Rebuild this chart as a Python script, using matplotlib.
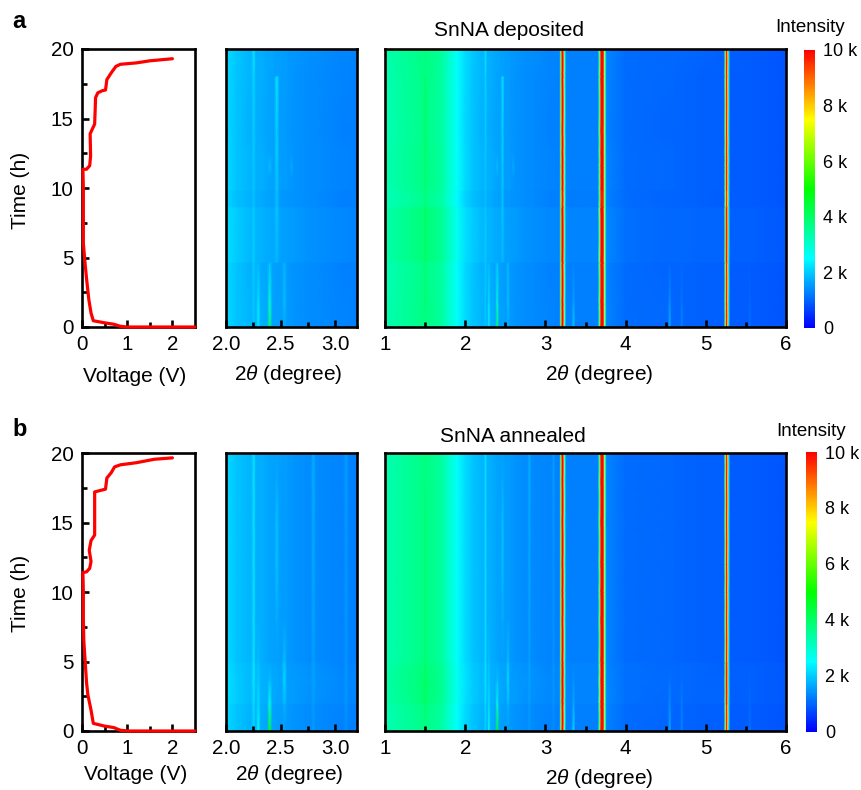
import matplotlib
matplotlib.use('Agg')
import matplotlib.pyplot as plt
import numpy as np
from matplotlib.colors import LinearSegmentedColormap

plt.rcParams['font.family'] = ['Liberation Sans', 'DejaVu Sans']
plt.rcParams['mathtext.fontset'] = 'custom'
plt.rcParams['mathtext.rm'] = 'Liberation Sans'
plt.rcParams['mathtext.it'] = 'Liberation Sans:italic'

# voltage curves
volt_a = [2.5, 1.0, 0.85, 0.7, 0.5, 0.25, 0.2, 0.15, 0.1, 0.07, 0.03, 0.03, 0.03, 0.02, 0.1, 0.17, 0.19, 0.18,
          0.28, 0.29, 0.3, 0.35, 0.45, 0.52, 0.55, 0.65, 0.75, 0.85, 1.2, 1.5, 2.0]
time_a = [0, 0, 0.05, 0.2, 0.3, 0.45, 1, 2, 3.5, 4.5, 6, 8, 10, 11.35, 11.35, 11.6, 12.3, 13.9,
          14.6, 15.5, 16.5, 16.85, 17, 17.05, 17.8, 18.3, 18.75, 18.9, 19, 19.15, 19.3]
volt_b = [2.5, 1.05, 0.85, 0.7, 0.5, 0.25, 0.2, 0.13, 0.1, 0.07, 0.04, 0.03, 0.03, 0.02, 0.1, 0.17, 0.2, 0.16,
          0.2, 0.28, 0.28, 0.28, 0.4, 0.52, 0.55, 0.65, 0.72, 0.85, 1.2, 1.6, 2.0]
time_b = [0, 0, 0.05, 0.25, 0.35, 0.55, 1.5, 2.6, 3.5, 5, 6.5, 8, 10, 11.4, 11.45, 11.7, 12.2, 13,
          13.7, 14.1, 15.5, 17.2, 17.3, 17.4, 18.2, 18.6, 19, 19.15, 19.3, 19.55, 19.65]

# mean diffraction profile, intensity in k counts at each 2theta node
theta = [1.0, 1.2, 1.4, 1.475, 1.5, 1.525, 1.6, 1.7, 1.8, 1.9, 2.0, 2.1, 2.2, 2.23, 2.255, 2.275, 2.295, 2.32,
         2.375, 2.4, 2.425, 2.44, 2.465, 2.49, 2.51, 2.535, 2.56, 2.575, 2.6, 2.625, 2.775, 2.8, 2.825, 3.075, 3.1, 3.125,
         3.175, 3.19, 3.2, 3.21, 3.225, 3.235, 3.245, 3.26, 3.325, 3.35, 3.375, 3.655, 3.67, 3.682, 3.695, 3.725,
         3.735, 3.75, 3.765, 4.0,
         4.525, 4.55, 4.575, 4.675, 4.7, 4.725, 5.0, 5.225, 5.24, 5.25, 5.262, 5.275, 5.29, 5.305, 5.525, 5.55, 5.575, 6.0]
base = [3.25, 3.45, 3.62, 3.7, 3.72, 3.7, 3.62, 3.45, 3.0, 2.55, 2.15, 1.95, 1.8, 1.77, 1.76, 1.74, 1.73, 1.72,
        1.65, 1.64, 1.63, 1.6, 1.58, 1.57, 1.55, 1.54, 1.53, 1.5, 1.49, 1.48, 1.4, 1.4, 1.4, 1.3, 1.3, 1.3,
        1.28, 2.9, 8.0, 10.0, 10.0, 7.5, 2.6, 1.3, 1.27, 1.27, 1.27, 1.27, 2.3, 6.5, 10.0, 10.0,
        7.0, 2.6, 1.3, 1.08,
        1.02, 1.02, 1.02, 1.01, 1.01, 1.01, 0.97, 0.95, 2.2, 8.0, 10.0, 8.0, 2.2, 0.93, 0.92, 0.92, 0.92, 0.85]

# row gain over time (bands seen across the maps)
rows_a = [0, 1.6, 1.7, 4.6, 4.7, 8.6, 8.7, 9.8, 9.9, 10.8, 11.5, 12.5, 14, 18, 18.1, 20]
gain_a = [1.0, 1.0, 1.0, 0.99, 1.03, 1.03, 0.98, 0.98, 1.0, 1.0, 1.0, 1.0, 0.99, 1.0, 1.0, 1.01]
rows_b = [0, 1.9, 2.0, 3.6, 4.9, 5.0, 8.0, 10.0, 12.0, 15.0, 18.0, 20]
gain_b = [0.99, 1.0, 1.03, 1.04, 1.02, 1.0, 1.0, 1.0, 1.0, 1.0, 1.0, 1.0]

# faint reflections: 2theta node, rows, added intensity
streaks_a = [
    (1.5, rows_a[:14], [0.05, 0.15, 0.15, 0.2, 0.2, 0.2, 0.2, 0.2, 0.2, 0.25, 0.25, 0.3, 0.3, 0.3]),
    (2.255, rows_a, [0.2, 0.2, 0.2, 0.25, 0.25, 0.2, 0.2, 0.2, 0.2, 0.2, 0.2, 0.25, 0.25, 0.35, 0.35, 0.5]),
    (2.295, [0, 1.6, 1.7, 4.6], [0.6, 0.5, 0.5, 0.1]),
    (2.4, [0, 1.6, 1.7, 4.6, 10.8, 11.5, 12.5], [2.4, 1.3, 1.3, 0.3, 0.0, 0.25, 0.0]),
    (2.465, [4.7, 8.6, 8.7, 9.8, 9.9, 10.8, 11.5, 12.5, 14, 18], [0.2, 0.4, 0.4, 0.4, 0.4, 0.45, 0.45, 0.5, 0.5, 0.7]),
    (2.535, [0, 1.6, 1.7, 4.6], [0.1, 0.35, 0.35, 0.3]),
    (2.6, [10.8, 11.5, 12.5], [0.0, 0.2, 0.0]),
    (3.35, [0, 1.6, 1.7], [0.8, 0.4, 0.4]),
    (4.55, [0, 1.6, 1.7], [0.7, 0.45, 0.45]),
    (4.7, [0, 1.6, 1.7], [0.3, 0.2, 0.2]),
    (5.55, [0, 1.6, 1.7], [0.2, 0.12, 0.12]),
]
streaks_b = [
    (1.5, rows_b[:11], [0.05, 0.25, 0.25, 0.3, 0.2, 0.2, 0.15, 0.15, 0.2, 0.2, 0.1]),
    (2.255, rows_b, [0.35, 0.4, 0.4, 0.45, 0.5, 0.5, 0.5, 0.5, 0.5, 0.5, 0.5, 0.5]),
    (2.295, [0, 1.9, 2.0, 3.6, 4.9, 5.0], [1.0, 0.4, 0.4, 0.2, 0.15, 0.15]),
    (2.4, [0, 1.9, 2.0, 3.6], [3.2, 1.1, 1.1, 0.2]),
    (2.465, [8.0, 10.0, 12.0, 15.0, 18.0], [0.12, 0.25, 0.35, 0.35, 0.12]),
    (2.535, [1.9, 2.0, 3.6, 4.9, 5.0], [0.25, 0.25, 0.55, 0.45, 0.4]),
    (2.8, rows_b, [0.15, 0.15, 0.15, 0.18, 0.2, 0.2, 0.25, 0.25, 0.28, 0.3, 0.32, 0.35]),
    (3.1, rows_b, [0.15, 0.15, 0.15, 0.16, 0.18, 0.18, 0.2, 0.2, 0.22, 0.25, 0.28, 0.3]),
    (3.35, [0, 1.9, 2.0, 3.6], [1.0, 0.4, 0.4, 0.15]),
    (4.55, [0, 1.9, 2.0, 3.6], [0.7, 0.35, 0.35, 0.1]),
    (4.7, [0, 1.9, 2.0, 3.6], [0.35, 0.18, 0.18, 0.05]),
    (5.55, [0, 1.9, 2.0, 3.6], [0.25, 0.12, 0.12, 0.03]),
]

W, H = 861, 790
rainbow = LinearSegmentedColormap.from_list('rainbow5', ['#0000ff', '#00ffff', '#00ff00', '#ffff00', '#ff0000'])


def px_axes(left, top, right, bottom):
    return plt.gcf().add_axes([left / W, 1 - bottom / H, (right - left) / W, (bottom - top) / H])


def px_text(x, y, s, **kw):
    kw.setdefault('fontsize', 15)
    plt.gcf().text(x / W, 1 - y / H, s, ha='center', va='center', **kw)


def style(ax):
    for sp in ax.spines.values():
        sp.set_linewidth(1.9)
    ax.tick_params(which='major', direction='in', length=5, width=1.9, labelsize=14.8, pad=6)
    ax.tick_params(which='minor', direction='in', length=3.5, width=1.9)


def build_map(rows, gain, streaks):
    z = np.outer(gain, base)
    for x, ts, hs in streaks:
        i = theta.index(x)
        for t, h in zip(ts, hs):
            z[rows.index(t), i] += h
    return z * 1000


def panel(top, bottom, volt, time, rows, gain, streaks, cbar_left, cbar_top, cbar_bottom):
    ax = px_axes(82, top, 195, bottom)
    ax.plot(volt, time, color='#ff0000', lw=2.3, solid_capstyle='round', clip_on=False, zorder=5)
    ax.set_xlim(0, 2.5)
    ax.set_ylim(0, 20)
    ax.set_xticks([0, 1, 2])
    ax.set_xticks([0.5, 1.5], minor=True)
    ax.set_yticks([0, 5, 10, 15, 20])
    ax.set_yticks([2.5, 7.5, 12.5, 17.5], minor=True)
    style(ax)

    z = build_map(rows, gain, streaks)

    # middle scan stops just short of the first strong peak
    n = theta.index(3.175)
    z_mid = z.copy()
    z_mid[:, n:] = z[:, [n]]
    mid = px_axes(226, top, 357, bottom)
    mid.pcolormesh(theta, rows, z_mid, cmap=rainbow, vmin=0, vmax=10000, shading='gouraud')
    mid.set_xlim(2.0, 3.2)
    mid.set_ylim(0, 20)
    mid.set_xticks([2.0, 2.5, 3.0])
    mid.set_xticklabels(['2.0', '2.5', '3.0'])
    mid.set_xticks([2.25, 2.75], minor=True)
    mid.set_yticks([])
    style(mid)

    big = px_axes(385, top, 786, bottom)
    mesh = big.pcolormesh(theta, rows, z, cmap=rainbow, vmin=0, vmax=10000, shading='gouraud')
    big.set_xlim(1, 6)
    big.set_ylim(0, 20)
    big.set_xticks([1, 2, 3, 4, 5, 6])
    big.set_xticks([1.5, 2.5, 3.5, 4.5, 5.5], minor=True)
    big.set_yticks([])
    style(big)

    cax = px_axes(cbar_left, cbar_top, cbar_left + 11, cbar_bottom)
    cb = plt.gcf().colorbar(mesh, cax=cax)
    cb.outline.set_visible(False)
    cb.set_ticks([0, 2000, 4000, 6000, 8000, 10000])
    cb.set_ticklabels(['0', '2 k', '4 k', '6 k', '8 k', '10 k'])
    cax.tick_params(length=0, labelsize=13, pad=6)


fig = plt.figure(figsize=(8.61, 7.9), dpi=100)

panel(49, 327, volt_a, time_a, rows_a, gain_a, streaks_a, 804, 50, 328)
panel(453, 731, volt_b, time_b, rows_b, gain_b, streaks_b, 806, 452, 732)

px_text(19, 22, 'a', fontweight='bold', fontsize=17)
px_text(20, 429, 'b', fontweight='bold', fontsize=17)
px_text(509, 31, 'SnNA deposited')
px_text(513, 436, 'SnNA annealed')
px_text(810, 28, 'Intensity', fontsize=13.5)
px_text(811, 431, 'Intensity', fontsize=13.5)
px_text(20, 190, 'Time (h)', rotation=90)
px_text(20, 593, 'Time (h)', rotation=90)
px_text(135, 376, 'Voltage (V)')
px_text(136, 775, 'Voltage (V)')
for x, y in [(288, 374), (599, 374), (289, 775), (599, 778)]:
    px_text(x, y, r'2$\mathit{\theta}$ (degree)')

plt.savefig('out.png', dpi=100)
